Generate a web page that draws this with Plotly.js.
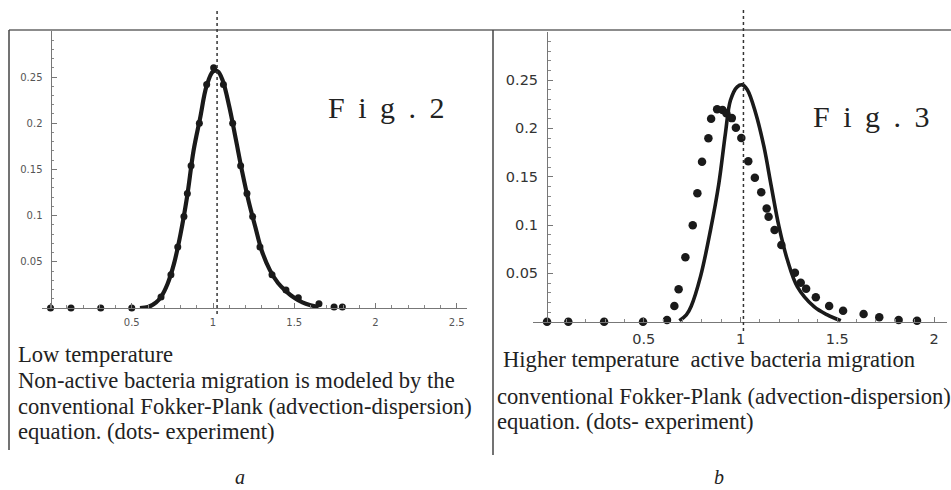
<!DOCTYPE html>
<html>
<head>
<meta charset="utf-8">
<script src="https://cdn.plot.ly/plotly-3.0.1.min.js"></script>
<style>html,body{margin:0;padding:0;background:#fff;}#chart{width:951px;height:490px;}</style>
</head>
<body>
<div id="chart"></div>
<script>
// ---- Panel a (Fig. 2): low temperature ----
const dotsA_x = [0.0, 0.126, 0.309, 0.50, 0.68, 0.741, 0.783, 0.821, 0.842, 0.865, 0.916, 0.961, 1.004, 1.064, 1.121, 1.170, 1.209, 1.244, 1.289, 1.363, 1.449, 1.525, 1.652, 1.745, 1.796];
const dotsA_y = [0.0, 0.0, 0.0, 0.0, 0.012, 0.036, 0.066, 0.099, 0.124, 0.154, 0.200, 0.242, 0.260, 0.242, 0.200, 0.154, 0.124, 0.099, 0.066, 0.036, 0.0195, 0.011, 0.0047, 0.001, 0.001];
const curveA_x = [0.55, 0.60, 0.65, 0.68, 0.72, 0.76, 0.80, 0.84, 0.88, 0.92, 0.96, 1.00, 1.03, 1.06, 1.10, 1.14, 1.18, 1.22, 1.26, 1.30, 1.35, 1.40, 1.45, 1.50, 1.55, 1.60, 1.65];
const curveA_y = [0.0, 0.001, 0.006, 0.012, 0.026, 0.048, 0.080, 0.120, 0.170, 0.205, 0.240, 0.256, 0.256, 0.246, 0.218, 0.183, 0.147, 0.115, 0.088, 0.062, 0.041, 0.027, 0.018, 0.011, 0.006, 0.003, 0.001];

// ---- Panel b (Fig. 3): higher temperature ----
const dotsB_x = [0.0, 0.11, 0.295, 0.496, 0.62, 0.658, 0.68, 0.715, 0.753, 0.777, 0.801, 0.834, 0.848, 0.879, 0.907, 0.927, 0.955, 0.976, 1.004, 1.04, 1.074, 1.107, 1.135, 1.145, 1.176, 1.211, 1.281, 1.311, 1.339, 1.389, 1.458, 1.53, 1.636, 1.717, 1.817, 1.912];
const dotsB_y = [0.0, 0.0, 0.0, 0.0, 0.0017, 0.0162, 0.0335, 0.0666, 0.0997, 0.1328, 0.1655, 0.1897, 0.210, 0.2197, 0.219, 0.2156, 0.2106, 0.2007, 0.190, 0.166, 0.149, 0.134, 0.117, 0.1086, 0.0949, 0.0793, 0.0507, 0.0403, 0.0341, 0.0252, 0.0162, 0.0114, 0.008, 0.0045, 0.0017, 0.001];
const curveB_x = [0.684, 0.72, 0.745, 0.793, 0.845, 0.888, 0.922, 0.948, 0.983, 1.009, 1.035, 1.078, 1.121, 1.159, 1.199, 1.242, 1.294, 1.38, 1.449, 1.518];
const curveB_y = [0.001, 0.007, 0.016, 0.0466, 0.095, 0.143, 0.195, 0.229, 0.243, 0.245, 0.240, 0.216, 0.181, 0.140, 0.098, 0.064, 0.036, 0.0155, 0.007, 0.001];

// reference markers and labels
const refA = 1.025, refB = 1.015;
const xTickStep = 0.5, yTickStep = 0.05;
const captionA = ["Low temperature", "Non-active bacteria migration is modeled by the", "conventional Fokker-Plank (advection-dispersion)", "equation. (dots- experiment)"];
const captionB = ["Higher temperature\u00A0\u00A0active bacteria migration", "conventional Fokker-Plank (advection-dispersion)", "equation. (dots- experiment)"];
const figLabels = ["F\u00A0\u2009i\u00A0\u2009g\u00A0\u2009.\u00A0\u20092", "F\u00A0\u2009i\u00A0\u2009g\u00A0\u2009.\u00A0\u20093"];
const panelLetters = ["a", "b"];

const W = 951, H = 490;
const px = v => v / W;
const py = v => (H - v) / H;
const ink = '#1a1a1a';
const capFont = {family: 'Liberation Serif', size: 22.6, color: '#222'};

const traces = [
  {x: curveA_x, y: curveA_y, xaxis: 'x', yaxis: 'y', mode: 'lines', line: {color: ink, width: 4.2, shape: 'spline'}, hoverinfo: 'skip'},
  {x: dotsA_x, y: dotsA_y, xaxis: 'x', yaxis: 'y', mode: 'markers', marker: {color: ink, size: 7}, cliponaxis: false},
  {x: curveB_x, y: curveB_y, xaxis: 'x2', yaxis: 'y2', mode: 'lines', line: {color: ink, width: 3.6, shape: 'spline'}, hoverinfo: 'skip'},
  {x: dotsB_x, y: dotsB_y, xaxis: 'x2', yaxis: 'y2', mode: 'markers', marker: {color: ink, size: 8.5}, cliponaxis: false}
];

function xAx(domain, range, fs, col, standoff, anchor) {
  return {domain, range, anchor, showline: true, linecolor: '#777', linewidth: 1,
    tickmode: 'linear', tick0: 0, dtick: xTickStep, ticks: 'inside', ticklen: 5, tickcolor: '#777',
    minor: {dtick: 0.1, ticks: 'inside', ticklen: 3, tickcolor: '#888'},
    labelalias: {'0': ' '}, ticklabelstandoff: standoff,
    tickfont: {family: 'DejaVu Sans', size: fs, color: col},
    showgrid: false, zeroline: false, fixedrange: true};
}
function yAx(domain, pos, fs, col, standoff) {
  return {domain, range: [0, 0.3], anchor: 'free', position: pos, showline: true, linecolor: '#777', linewidth: 1,
    tickmode: 'linear', tick0: 0, dtick: yTickStep, ticks: 'inside', ticklen: 5, tickcolor: '#777',
    minor: {dtick: 0.01, ticks: 'inside', ticklen: 2.5, tickcolor: '#888'},
    labelalias: {'0': ' ', '0.3': ' '}, ticklabelstandoff: standoff,
    tickfont: {family: 'DejaVu Sans', size: fs, color: col},
    showgrid: false, zeroline: false, fixedrange: true};
}

const annotations = [];
const capYA = [354, 380, 406, 431.5];
captionA.forEach((t, i) => annotations.push({text: t, xref: 'paper', yref: 'paper', x: px(16), y: py(capYA[i]), xanchor: 'left', yanchor: 'middle', showarrow: false, font: capFont}));
const capYB = [359, 396.5, 421.5];
const capXB = [501, 495, 495];
captionB.forEach((t, i) => annotations.push({text: t, xref: 'paper', yref: 'paper', x: px(capXB[i]), y: py(capYB[i]), xanchor: 'left', yanchor: 'middle', showarrow: false, font: capFont}));
annotations.push({text: figLabels[0], xref: 'paper', yref: 'paper', x: px(326), y: py(108), xanchor: 'left', yanchor: 'middle', showarrow: false, font: {family: 'Liberation Serif', size: 30, color: '#222'}});
annotations.push({text: figLabels[1], xref: 'paper', yref: 'paper', x: px(811), y: py(117), xanchor: 'left', yanchor: 'middle', showarrow: false, font: {family: 'Liberation Serif', size: 30, color: '#222'}});
annotations.push({text: '<i>' + panelLetters[0] + '</i>', xref: 'paper', yref: 'paper', x: px(240), y: py(477), xanchor: 'center', yanchor: 'middle', showarrow: false, font: {family: 'Liberation Serif', size: 20, color: '#222'}});
annotations.push({text: '<i>' + panelLetters[1] + '</i>', xref: 'paper', yref: 'paper', x: px(719), y: py(477), xanchor: 'center', yanchor: 'middle', showarrow: false, font: {family: 'Liberation Serif', size: 20, color: '#222'}});

const shapes = [
  {type: 'line', xref: 'paper', yref: 'paper', x0: px(9), x1: 1, y0: py(30), y1: py(30), line: {color: '#666', width: 1.5}},
  {type: 'line', xref: 'paper', yref: 'paper', x0: px(9), x1: px(9), y0: py(30), y1: py(450), line: {color: '#444', width: 1.5}},
  {type: 'line', xref: 'paper', yref: 'paper', x0: px(493), x1: px(493), y0: py(30), y1: py(455), line: {color: '#444', width: 1.5}},
  {type: 'line', xref: 'x', yref: 'paper', x0: refA, x1: refA, y0: py(11), y1: py(315), line: {color: '#333', width: 1.5, dash: 'dot'}},
  {type: 'line', xref: 'x2', yref: 'paper', x0: refB, x1: refB, y0: py(10), y1: py(333), line: {color: '#333', width: 1.5, dash: 'dot'}}
];

// pixel mapping: panel a x0=50.5px, 162.5 px/unit; panel b x0=547px, 193.5 px/unit
const layout = {
  width: W, height: H, margin: {l: 0, r: 0, t: 0, b: 0},
  paper_bgcolor: '#fff', plot_bgcolor: 'rgba(0,0,0,0)', showlegend: false,
  xaxis: xAx([px(42.4), px(466.5)], [-0.05, 2.56], 10, '#555', 5, 'y'),
  yaxis: yAx([py(308), py(30.8)], px(50.5), 10, '#555', 6),
  xaxis2: xAx([px(533.1), px(947)], [-0.072, 2.067], 14.5, '#333', 4, 'y2'),
  yaxis2: yAx([py(321.7), py(31.7)], px(547), 14.5, '#333', 6),
  annotations, shapes
};

Plotly.newPlot('chart', traces, layout, {displayModeBar: false, staticPlot: true});
</script>
</body>
</html>
